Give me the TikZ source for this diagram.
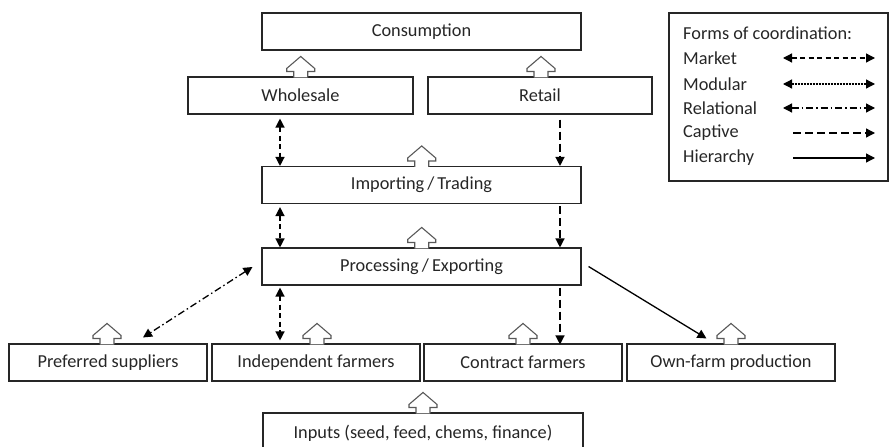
\documentclass[tikz,border=0pt]{standalone}
\usepackage{fontspec}
\setmainfont{Carlito}
\usetikzlibrary{arrows.meta,calc}
\begin{document}
\begin{tikzpicture}[x=1pt,y=-1pt,
  box/.style={draw=black!85, line width=1.1pt, minimum height=37pt, inner sep=0pt, font=\fontsize{18.3}{21}\selectfont, text=black!85},
  legtext/.style={anchor=west, inner sep=0pt, font=\fontsize{18.3}{21}\selectfont, text=black!85},
  hollow/.style={draw=black!65, fill=white, line width=1.1pt, line join=miter},
  conn/.style={line width=1.3pt, draw=black, -{Triangle[length=9pt,width=9pt]}},
  conn2/.style={conn, {Triangle[length=9pt,width=9pt]}-{Triangle[length=9pt,width=9pt]}},
  market/.style={conn2, dash pattern=on 5pt off 3.5pt},
  modular/.style={conn2, dash pattern=on 2pt off 1pt},
  relational/.style={conn2, dash pattern=on 7pt off 3pt on 1.5pt off 3pt},
  captive/.style={conn, dash pattern=on 8pt off 4pt},
  hierarchy/.style={conn}
]
\useasboundingbox (0,0) rectangle (894,447);

% nodes
\node[box, minimum width=319pt] (cons) at (421.5,31.5) {Consumption};
\node[box, minimum width=225pt] (whole) at (300.5,95.5) {Wholesale};
\node[box, minimum width=224pt] (retail) at (540,95.5) {Retail};
\node[box, minimum width=319pt] (imp) at (421.5,185) {Importing\,/\,Trading};
\node[box, minimum width=319pt] (proc) at (421.5,266.5) {Processing\,/\,Exporting};
\node[box, minimum width=198pt] (pref) at (108,362.5) {Preferred suppliers};
\node[box, minimum width=208pt] (indep) at (316,362.5) {Independent farmers};
\node[box, minimum width=198pt] (contract) at (523,362.5) {Contract farmers};
\node[box, minimum width=208pt] (own) at (731,362.5) {Own-farm production};
\node[box, minimum width=320pt, minimum height=40pt] (inputs) at (423,433) {Inputs (seed, feed, chems, finance)};

% hollow up-arrows
\newcommand\hollowup[2]{%
  \filldraw[hollow] (#1,0 |- #2.north) ++(-7,1) -- ++(0,-6) -- ++(-7,0) -- ++(0,-3)
     -- ++(14,-12) -- ++(14,12) -- ++(0,3) -- ++(-7,0) -- ++(0,6);}
\hollowup{300.7}{whole}
\hollowup{541}{retail}
\hollowup{421.7}{imp}
\hollowup{421.7}{proc}
\hollowup{107}{pref}
\hollowup{317}{indep}
\hollowup{523}{contract}
\hollowup{731}{own}
\hollowup{423}{inputs}

% coordination connectors
\draw[market] ($(280,0 |- whole.south)+(0,4)$) -- (280,0 |- imp.north);
\draw[market] ($(280,0 |- imp.south)+(0,3)$) -- (280,0 |- proc.north);
\draw[market] ($(280,0 |- proc.south)+(0,2)$) -- ($(280,0 |- indep.north)+(0,-3)$);
\draw[captive] ($(560,0 |- retail.south)+(0,5)$) -- (560,0 |- imp.north);
\draw[captive] ($(560,0 |- imp.south)+(0,2)$) -- (560,0 |- proc.north);
\draw[captive] ($(560,0 |- proc.south)+(0,2)$) -- ($(560,0 |- contract.north)+(0,1)$);
\draw[relational] ($(proc.west)+(-9,0.5)$) -- ($(pref.north)+(35,-6)$);
\draw[hierarchy] ($(proc.east)+(7,0)$) -- ($(own.north west)+(80,-5)$);

% legend
\node[draw=black!85, line width=1.1pt, minimum width=219pt, minimum height=168pt, inner sep=0pt] (legend) at (778.5,97) {};
\node[legtext] (lt) at (683,33) {Forms of coordination:};
\node[legtext] (lm) at (683,58) {Market};
\node[legtext] (lmo) at (683,84) {Modular};
\node[legtext] (lr) at (683,108) {Relational};
\node[legtext] (lc) at (683,133) {Captive};
\node[legtext] (lh) at (683,158) {Hierarchy};
\coordinate (m1) at (783,58); \coordinate (m2) at (875,58);
\coordinate (mo1) at (783,84); \coordinate (mo2) at (875,84);
\coordinate (r1) at (783,108); \coordinate (r2) at (875,108);
\coordinate (c1) at (793,133); \coordinate (c2) at (875,133);
\coordinate (h1) at (793,158); \coordinate (h2) at (875,158);
\draw[market] (m1) -- (m2);
\draw[modular] (mo1) -- (mo2);
\draw[relational] (r1) -- (r2);
\draw[captive] (c1) -- (c2);
\draw[hierarchy] (h1) -- (h2);
\end{tikzpicture}
\end{document}
